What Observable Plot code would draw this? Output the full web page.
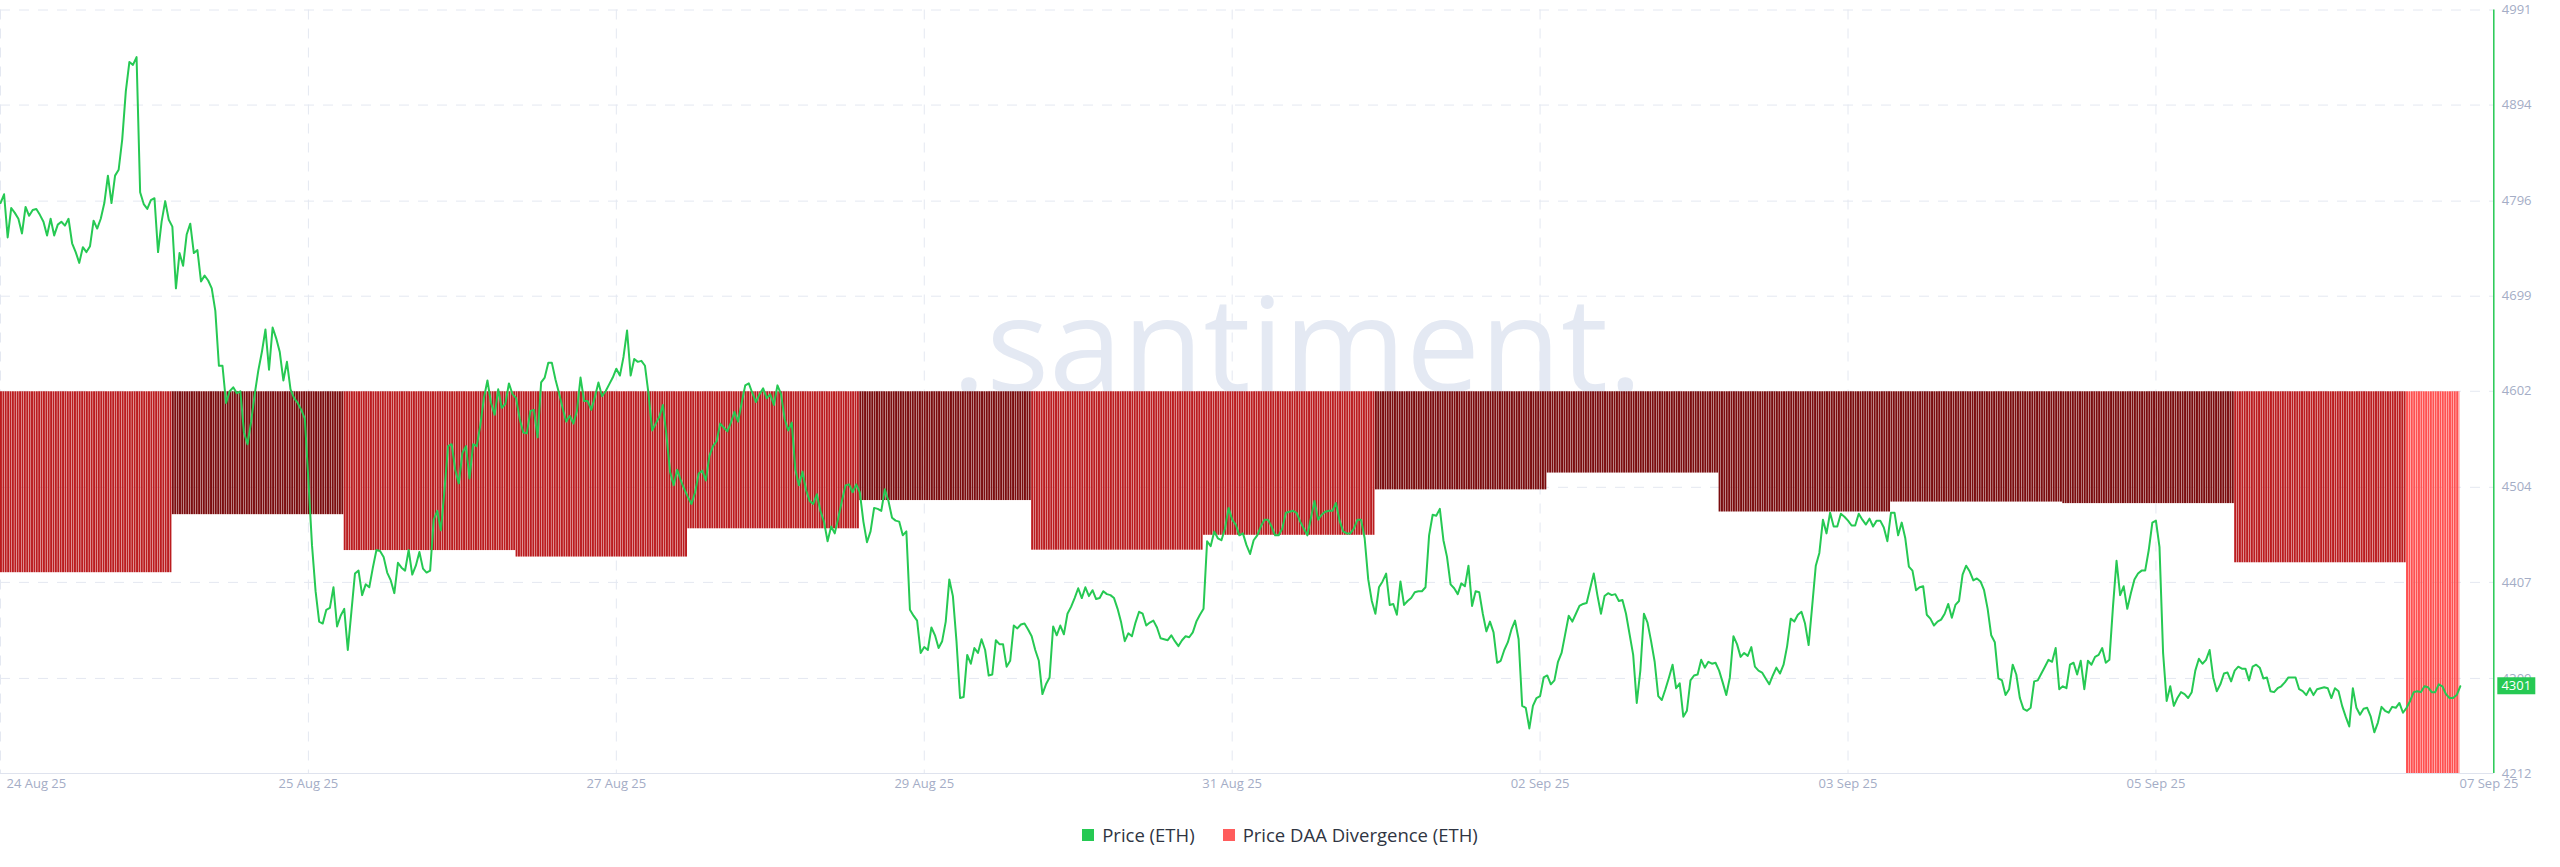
<!DOCTYPE html>
<html><head><meta charset="utf-8">
<script src="https://cdn.jsdelivr.net/npm/d3@7"></script>
<script src="https://cdn.jsdelivr.net/npm/@observablehq/plot@0.6"></script>
<style>
html,body{margin:0;padding:0;background:#fff;}
body{width:2560px;height:867px;overflow:hidden;font-family:"Open Sans",sans-serif;}
#chart svg{display:block;}
#legend{display:flex;justify-content:center;align-items:center;gap:28px;margin-top:22px;font-size:18.5px;line-height:26px;color:#2f3542;}
#legend .item{display:flex;align-items:center;gap:8px;}
#legend .sw{width:12px;height:12px;display:inline-block;}
</style></head><body>
<div id="chart"></div>
<div id="legend"></div>
<script>
// ---- data ----
const seriesStart = "2025-08-24T00:00:00Z";
const priceStepMinutes = 30;
const priceETH = [
4794,4803,4759,4789,4784,4778,4763,4790,4781,4787,
4788,4782,4775,4761,4778,4761,4772,4775,4771,4778,
4753,4744,4733,4749,4744,4750,4776,4768,4778,4794,
4822,4794,4822,4828,4859,4908,4938,4935,4943,4805,
4793,4788,4797,4799,4744,4775,4796,4777,4770,4707,
4743,4730,4762,4773,4743,4746,4714,4720,4715,4707,
4684,4628,4628,4590,4602,4606,4600,4602,4560,4548,
4571,4599,4623,4642,4665,4624,4667,4656,4642,4613,
4632,4604,4595,4590,4583,4574,4511,4445,4398,4367,
4365,4379,4381,4402,4362,4373,4380,4338,4377,4416,
4419,4394,4405,4402,4422,4440,4439,4433,4417,4409,
4396,4427,4422,4419,4440,4415,4424,4438,4421,4417,
4419,4471,4480,4460,4501,4546,4548,4522,4508,4539,
4546,4513,4548,4546,4567,4595,4613,4590,4578,4604,
4585,4589,4610,4599,4595,4574,4560,4559,4582,4583,
4555,4611,4616,4631,4631,4614,4600,4585,4571,4577,
4569,4582,4616,4592,4592,4583,4596,4611,4597,4602,
4609,4616,4625,4618,4637,4664,4618,4635,4632,
4633,4628,4599,4562,4569,4576,4588,4557,4520,4506,4522,
4511,4502,4494,4487,4499,4518,4521,4511,4536,4546,
4551,4569,4565,4561,4570,4581,4571,4590,4608,4610,
4600,4591,4599,4605,4595,4599,4588,4608,4599,4574,
4562,4570,4522,4506,4520,4501,4490,4487,4497,4480,
4469,4449,4464,4457,4473,4490,4506,4507,4499,4507,
4499,4469,4448,4459,4483,4482,4480,4502,4490,4473,
4470,4469,4455,4459,4379,4373,4368,4335,4341,4338,
4361,4353,4340,4347,4367,4410,4393,4347,4289,4290,
4333,4324,4340,4335,4349,4338,4312,4313,4348,4344,
4344,4321,4327,4363,4360,4364,4365,4359,4352,4338,
4327,4293,4303,4310,4362,4353,4363,4354,4375,4382,
4391,4401,4391,4402,4393,4399,4390,4391,4398,4395,
4394,4391,4380,4366,4347,4355,4352,4366,4377,4375,
4363,4366,4368,4361,4350,4349,4348,4353,4347,4342,
4348,4352,4351,4356,4367,4374,4380,4449,4444,4459,
4452,4450,4462,4483,4471,4466,4455,4457,4445,4436,4450,4455,
4464,4471,4471,4464,4455,4455,4462,4478,
4479,4480,4478,4469,4462,4455,4473,4490,4471,4476,
4479,4480,4480,4488,4470,4459,4457,4457,4462,4471,
4471,4452,4410,4388,4375,4402,4408,4416,4384,4385,
4374,4408,4384,4388,4391,4397,4398,4398,4402,4455,
4476,4475,4482,4450,4433,4405,4401,4395,4406,4403,
4424,4383,4398,4397,4375,4357,4367,4356,4325,4327,
4338,4346,4359,4368,4349,4281,4279,4258,4281,4289,
4291,4310,4312,4303,4307,4326,4335,4354,4373,4367,
4375,4383,4385,4386,4401,4416,4394,4375,4393,4396,
4394,4395,4388,4389,4375,4354,4333,4284,4317,4375,
4366,4347,4326,4291,4287,4298,4310,4323,4299,4304,
4270,4276,4307,4312,4313,4328,4320,4326,4324,4325,
4317,4305,4292,4310,4352,4344,4331,4335,4332,4341,
4321,4317,4315,4309,4303,4312,4320,4314,4323,4342,
4370,4367,4374,4377,4365,4343,4383,4424,4437,4471,
4457,4478,4464,4464,4477,4474,4470,4465,4465,4477,
4471,4466,4472,4464,4470,
4470,4463,4449,4478,4478,
4455,4468,4452,4423,4419,4399,4402,4403,4374,4370,
4363,4367,4369,4375,4385,4371,4384,4388,4415,4424,
4418,4409,4411,4408,4399,4380,4353,4346,4309,4307,
4292,4298,4323,4313,4289,4278,4276,4279,4306,4307,
4314,4321,4328,4326,4340,4298,4301,4299,4323,4325,
4313,4327,4298,4327,4323,4331,4333,4340,4325,4328,
4382,4429,4394,4403,4380,4396,4410,4416,4419,4419,
4440,4468,4470,4443,4335,4286,4301,4281,4289,4295,
4293,4289,4295,4317,4329,4324,4328,4338,4310,4296,
4303,4314,4315,4306,4317,4321,4319,4319,4307,4321,
4323,4320,4309,4310,4296,4295,4299,4301,4305,4310,
4310,4310,4298,4296,4292,4299,4292,4298,4299,4300,
4299,4289,4299,4296,4281,4270,4260,4299,4279,4272,
4278,4279,4270,4254,4264,4280,4276,4274,4280,4279,
4284,4274,4279,4286,4295,4296,4295,4301,4300,4295,
4295,4303,4301,4293,4289,4289,4292,4301
];
const divergenceDays = ["2025-08-24","2025-08-25","2025-08-26","2025-08-27","2025-08-28","2025-08-29","2025-08-30","2025-08-31","2025-09-01","2025-09-02","2025-09-03","2025-09-04","2025-09-05","2025-09-06","2025-09-07"];
const divergenceETH = [-0.474,-0.322,-0.416,-0.433,-0.359,-0.285,-0.415,-0.376,-0.257,-0.213,-0.315,-0.289,-0.293,-0.448,-1.0];
const yTicks = [4212, 4309, 4407, 4504, 4602, 4699, 4796, 4894, 4991];
const xGridDates = ["2025-08-24T00:00Z","2025-08-25T19:00Z","2025-08-27T14:00Z","2025-08-29T09:00Z","2025-08-31T04:00Z","2025-09-01T23:00Z","2025-09-03T18:00Z","2025-09-05T13:00Z"];
const xLabelDates = ["2025-08-24T00:00Z","2025-08-25T19:00Z","2025-08-27T14:00Z","2025-08-29T09:00Z","2025-08-31T04:00Z","2025-09-01T23:00Z","2025-09-03T18:00Z","2025-09-05T13:00Z","2025-09-07T11:30Z"];
const xLabels = ["24 Aug 25","25 Aug 25","27 Aug 25","29 Aug 25","31 Aug 25","02 Sep 25","03 Sep 25","05 Sep 25","07 Sep 25"];
const xDomain = ["2025-08-24T00:00Z","2025-09-07T12:11Z"];
const yDomain = [4212, 4991];
const divDomain = [-1, 1];

// ---- styles ----
const GREEN = "#26c953";
const RED = "#ff5c5c";
const AXIS_TEXT = "#a4adc6";
const GRID = "#e4e8f1";

// ---- tables ----
const t0 = Date.parse(seriesStart);
const stepMs = priceStepMinutes * 60e3;
const prices = priceETH.map((p, i) => ({date: new Date(t0 + i * stepMs), price: p}));
const priceEnd = t0 + (priceETH.length - 1) * stepMs;
const stripeMs = 20 * 60e3, dayMs = 864e5;
const stripes = [];
divergenceDays.forEach((d, i) => {
  const s = Date.parse(d + "T00:00:00Z");
  for (let t = s; t < s + dayMs && t < priceEnd; t += stripeMs) {
    stripes.push({x1: new Date(t), x2: new Date(Math.min(t + stripeMs, priceEnd)), value: divergenceETH[i]});
  }
});
// secondary (divergence) axis mapped onto the price axis, zero at the middle
const divToPrice = d3.scaleLinear(divDomain, yDomain);
const xl = xLabelDates.map((d, i) => ({date: new Date(d), label: xLabels[i]}));
const last = prices[prices.length - 1];

const chart = Plot.plot({
  width: 2560,
  height: 800,
  marginLeft: 0,
  marginRight: 66.7,
  marginTop: 9.5,
  marginBottom: 27,
  style: {fontFamily: "'Open Sans', sans-serif", fontSize: "13px", background: "#fff", overflow: "visible"},
  x: {type: "utc", domain: xDomain.map(d => new Date(d)), axis: null},
  y: {domain: yDomain, axis: null},
  color: {type: "threshold", domain: [-0.6, -0.34], range: ["#ff5050", "#bb1c1f", "#7a0c0e"]},
  marks: [
    Plot.gridY({ticks: yTicks, stroke: GRID, strokeOpacity: 1, strokeDasharray: "10,9"}),
    Plot.gridX({ticks: xGridDates.map(d => new Date(d)), stroke: GRID, strokeOpacity: 1, strokeDasharray: "10,9"}),
    Plot.text([".santiment."], {frameAnchor: "middle", dx: 50, lineAnchor: "bottom", fontSize: 132, fill: "#e4e9f3", fontFamily: "'Open Sans', sans-serif"}),
    Plot.rect(stripes, {x1: "x1", x2: "x2", y1: () => divToPrice(0), y2: d => divToPrice(d.value), fill: "value", insetRight: 0.45}),
    Plot.ruleY([yDomain[0]], {stroke: "#dfe3ee"}),
    Plot.line(prices, {x: "date", y: "price", stroke: GREEN, strokeWidth: 2}),
    Plot.ruleX([new Date(xDomain[1])], {stroke: GREEN, strokeWidth: 1.5}),
    Plot.axisY({ticks: yTicks, anchor: "right", tickSize: 0, tickPadding: 8, fontSize: 13, color: AXIS_TEXT, fill: AXIS_TEXT, textAnchor: "start", tickFormat: d => String(d), label: null}),
    Plot.text(xl.slice(0, 1), {x: "date", text: "label", frameAnchor: "bottom", dy: 14, dx: 6, textAnchor: "start", fill: AXIS_TEXT, fontSize: 13}),
    Plot.text(xl.slice(1), {x: "date", text: "label", frameAnchor: "bottom", dy: 14, textAnchor: "middle", fill: AXIS_TEXT, fontSize: 13})
  ]
});
document.getElementById("chart").appendChild(chart);

// last-price tag on the right axis, positioned through the chart's own y scale
const yScale = chart.scale("y");
const tagY = yScale.apply(last.price);
const frameRight = 2560 - 66.7;
const svg = d3.select(chart);
const tagG = svg.append("g").attr("aria-label", "price-tag");
tagG.append("rect").attr("x", frameRight + 4).attr("y", tagY - 8.5).attr("width", 38).attr("height", 17).attr("fill", GREEN);
tagG.append("text").attr("x", frameRight + 23).attr("y", tagY).attr("dy", "0.35em")
  .attr("text-anchor", "middle").attr("fill", "#fff").attr("font-size", 13)
  .attr("font-family", "'Open Sans', sans-serif").text(d3.format("d")(last.price));

// legend
const legendItems = [{label: "Price (ETH)", color: GREEN}, {label: "Price DAA Divergence (ETH)", color: RED}];
const lg = document.getElementById("legend");
legendItems.forEach(it => {
  const el = document.createElement("div"); el.className = "item";
  const sw = document.createElement("span"); sw.className = "sw"; sw.style.background = it.color;
  const tx = document.createElement("span"); tx.textContent = it.label;
  el.appendChild(sw); el.appendChild(tx); lg.appendChild(el);
});
</script>
</body></html>
